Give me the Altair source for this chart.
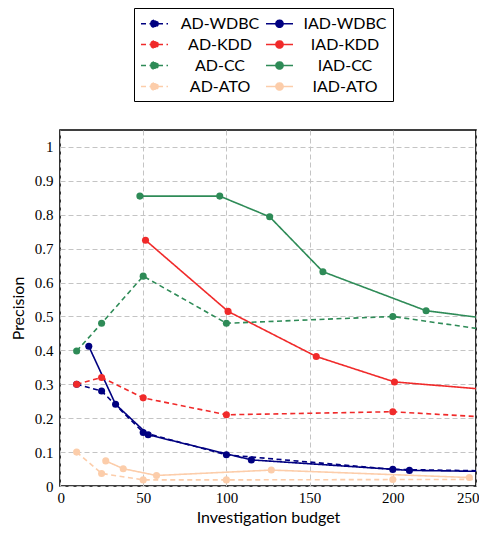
import altair as alt
import pandas as pd

# legend order is column-major: first column = AD series, second = IAD series
series = ["AD-WDBC", "AD-KDD", "AD-CC", "AD-ATO", "IAD-WDBC", "IAD-KDD", "IAD-CC", "IAD-ATO"]
colors = ["#000080", "#f02a2a", "#2e8b57", "#fccdaa", "#000080", "#f02a2a", "#2e8b57", "#fccdaa"]
dashes = [[5, 3.5], [5, 3.5], [5, 3.5], [5, 3.5], [1, 0], [1, 0], [1, 0], [1, 0]]

ad_wdbc_x = [10, 25, 50, 100, 200, 300]
ad_wdbc_y = [0.30, 0.28, 0.158, 0.092, 0.049, 0.041]
iad_wdbc_x = [17.3, 33.4, 53, 115, 210, 300]
iad_wdbc_y = [0.412, 0.241, 0.151, 0.077, 0.046, 0.040]
ad_kdd_x = [10, 25, 50, 100, 200, 300]
ad_kdd_y = [0.30, 0.32, 0.26, 0.21, 0.219, 0.191]
iad_kdd_x = [51.4, 101, 154, 201, 300]
iad_kdd_y = [0.725, 0.515, 0.382, 0.307, 0.267]
ad_cc_x = [10, 25, 50, 100, 200, 300]
ad_cc_y = [0.398, 0.48, 0.619, 0.48, 0.50, 0.43]
iad_cc_x = [48, 96, 126, 158, 220, 300]
iad_cc_y = [0.855, 0.855, 0.794, 0.632, 0.517, 0.467]
ad_ato_x = [10, 25, 50, 100, 200, 300]
ad_ato_y = [0.10, 0.037, 0.018, 0.018, 0.019, 0.02]
iad_ato_x = [27.5, 38, 58, 127, 246]
iad_ato_y = [0.074, 0.051, 0.031, 0.047, 0.025]

data = {
    "AD-WDBC": (ad_wdbc_x, ad_wdbc_y),
    "IAD-WDBC": (iad_wdbc_x, iad_wdbc_y),
    "AD-KDD": (ad_kdd_x, ad_kdd_y),
    "IAD-KDD": (iad_kdd_x, iad_kdd_y),
    "AD-CC": (ad_cc_x, ad_cc_y),
    "IAD-CC": (iad_cc_x, iad_cc_y),
    "AD-ATO": (ad_ato_x, ad_ato_y),
    "IAD-ATO": (iad_ato_x, iad_ato_y),
}

rows = []
for name, (xv, yv) in data.items():
    for a, b in zip(xv, yv):
        rows.append({"series": name, "budget": a, "precision": b})
df = pd.DataFrame(rows)

legend = alt.Legend(
    title=None,
    orient="none",
    legendX=74,
    legendY=-122,
    columns=2,
    columnPadding=2,
    rowPadding=3,
    symbolType="M-1.6,0H1.6M-0.42,0A0.42,0.42,0,1,1,0.42,0A0.42,0.42,0,1,1,-0.42,0Z",
    symbolSize=285,
    symbolOffset=5,
    symbolStrokeWidth=1.6,
    labelFont="Lato",
    labelFontSize=16,
    labelColor="black",
    labelAlign="center",
    labelOffset=56,
    padding=6,
    strokeColor="black",
    fillColor="white",
    cornerRadius=0,
)

xenc = alt.X("budget:Q", scale=alt.Scale(domain=[0, 250], nice=False),
             axis=alt.Axis(values=[0, 50, 100, 150, 200, 250], title="Investigation budget",
                           labelFlush=True, labelFlushOffset=3))
yenc = alt.Y("precision:Q", scale=alt.Scale(domain=[0, 1.05], nice=False),
             axis=alt.Axis(values=[0, 0.1, 0.2, 0.3, 0.4, 0.5, 0.6, 0.7, 0.8, 0.9, 1],
                           format="~g", title="Precision"))

lines = alt.Chart(df).mark_line(clip=True, strokeWidth=1.6).encode(
    x=xenc, y=yenc,
    color=alt.Color("series:N", scale=alt.Scale(domain=series, range=colors), legend=legend),
    strokeDash=alt.StrokeDash("series:N", scale=alt.Scale(domain=series, range=dashes), legend=legend),
)
points = alt.Chart(df).mark_circle(clip=True, size=50, opacity=1).encode(
    x=xenc, y=yenc,
    fill=alt.Fill("series:N", scale=alt.Scale(domain=series, range=colors), legend=legend),
)

chart = alt.layer(lines, points).properties(
    width=416, height=356,
    autosize=alt.AutoSizeParams(type="none"),
    padding={"left": 52, "top": 122, "right": 3, "bottom": 40},
).configure_view(
    stroke="black", strokeWidth=1.6
).configure_axis(
    domain=False,
    ticks=False,
    grid=True,
    gridColor="#c4c4c4",
    gridDash=[5, 3],
    gridWidth=1,
    labelFont="Liberation Serif",
    labelFontSize=15,
    labelColor="black",
    titleFont="Lato",
    titleFontSize=16,
    titleFontWeight="normal",
    titleColor="black",
).configure_axisX(
    labelPadding=4,
    titlePadding=4,
).configure_axisY(
    labelPadding=7,
    titlePadding=8,
)

chart.save("out.html", embed_options={"renderer": "svg", "actions": False})
